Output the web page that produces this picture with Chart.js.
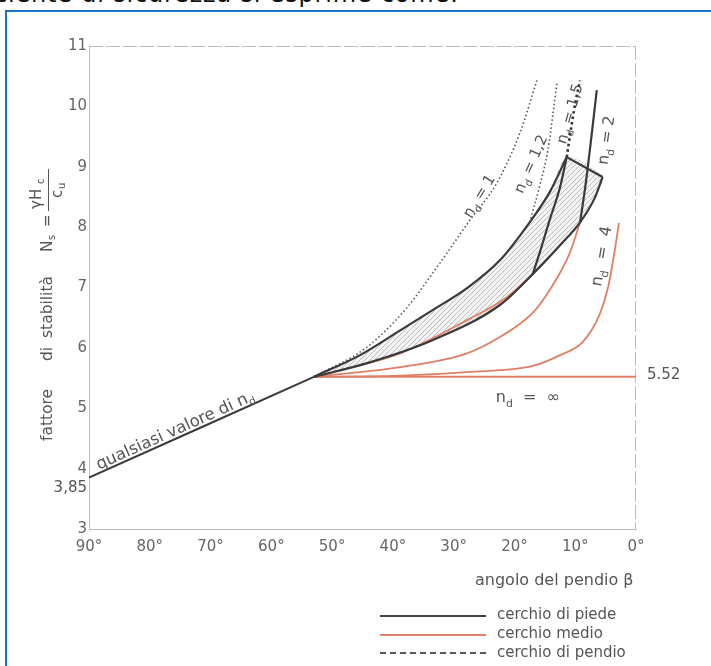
<!DOCTYPE html>
<html>
<head>
<meta charset="utf-8">
<script src="https://cdn.jsdelivr.net/npm/chart.js@4.4.1/dist/chart.umd.min.js"></script>
<style>
  html, body { margin: 0; padding: 0; background: #fff; }
  body { width: 711px; height: 666px; position: relative; overflow: hidden; font-family: "DejaVu Sans", sans-serif; }
  #topText { position: absolute; left: -6px; top: -17px; font-size: 24px; line-height: 23px; letter-spacing: 0.8px; color: #111; white-space: nowrap; }
  #frame { position: absolute; left: 5px; top: 10px; width: 740px; height: 700px; border-left: 2px solid #1b73c8; border-top: 2px solid #1b73c8; }
  #chartBox { position: absolute; left: 0; top: 0; width: 711px; height: 666px; }
  #xTitle { position: absolute; left: 475px; top: 570px; font-size: 16px; color: #555; }
  .lg { position: absolute; left: 380px; width: 106px; height: 0; }
  .lgText { position: absolute; left: 497px; font-size: 15px; color: #555; line-height: 18px; }
</style>
</head>
<body>
<div id="topText">ciente di sicurezza si esprime come:</div>
<div id="frame"></div>
<div id="chartBox"><canvas id="taylorChart" width="711" height="666"></canvas></div>
<div id="xTitle">angolo del pendio β</div>
<div class="lg" style="top:615px;border-top:2px solid #444;"></div>
<div class="lgText" style="top:605px;">cerchio di piede</div>
<div class="lg" style="top:634px;border-top:2px solid #e08068;"></div>
<div class="lgText" style="top:624px;">cerchio medio</div>
<div class="lg" style="top:652px;border-top:2px dashed #555;"></div>
<div class="lgText" style="top:643px;">cerchio di pendio</div>
<script>
// angolo del pendio (gradi) / fattore di stabilita Ns
const betaTicks = [90, 80, 70, 60, 50, 40, 30, 20, 10, 0];
const nsTicks = [3, 4, 5, 6, 7, 8, 9, 10, 11];

const betaBase = [90, 53];
const nsBase = [3.85, 5.52];

const betaInf = [53, 0];
const nsInf = [5.52, 5.52];

// cerchio medio
const betaMedio15 = [53, 47.1, 38.8, 27.8, 21.25, 17.0];
const nsMedio15 = [5.52, 5.67, 5.91, 6.46, 6.84, 7.22];
const betaMedio2 = [53, 38.8, 27.8, 22.4, 17.0, 14.2, 10.9, 9.2];
const nsMedio2 = [5.52, 5.68, 5.91, 6.18, 6.58, 6.96, 7.57, 8.08];
const betaMedio4 = [53, 38.8, 27.8, 17.0, 12.5, 8.75, 6.0, 4.6, 3.6, 2.8];
const nsMedio4 = [5.52, 5.54, 5.60, 5.70, 5.88, 6.10, 6.55, 7.00, 7.55, 8.07];

// cerchio di piede (contorni zona tratteggiata e curve interne)
const betaPiedeUp = [53, 45.4, 38.8, 33.4, 27.8, 22.4, 17.5, 14.2, 11.4];
const nsPiedeUp = [5.52, 5.88, 6.29, 6.63, 6.99, 7.45, 8.08, 8.58, 9.16];
const betaPiedeLow = [53, 43.8, 33.4, 22.4, 17.0, 12.5, 9.2, 6.8, 5.5];
const nsPiedeLow = [5.52, 5.76, 6.13, 6.71, 7.22, 7.70, 8.08, 8.48, 8.83];
const betaPiedeTop = [11.4, 5.5];
const nsPiedeTop = [9.16, 8.83];
const betaPiede15 = [17.0, 15.8, 14.2, 12.5, 11.4];
const nsPiede15 = [7.22, 7.59, 8.12, 8.66, 9.16];
const betaPiede2 = [9.2, 8.3, 7.4, 6.45];
const nsPiede2 = [8.08, 8.70, 9.44, 10.27];

// cerchio di pendio
const betaPendio1 = [53, 44.3, 38.0, 32.3, 27.3, 22.9, 19.1, 16.3];
const nsPendio1 = [5.52, 6.01, 6.63, 7.40, 8.12, 8.73, 9.56, 10.43];
const betaPendio12 = [17.5, 15.8, 14.5, 13.7, 13.0];
const nsPendio12 = [8.08, 8.70, 9.27, 9.85, 10.40];
const betaPendio15 = [11.4, 10.6, 9.9, 9.2];
const nsPendio15 = [9.16, 9.69, 10.10, 10.43];

const ndLabels = ['1', '1,2', '1,5', '2', '4', '∞'];

const FONT = '"DejaVu Sans", sans-serif';
const BLACK = '#3a3a3a', RED = '#e07f66', GREY = '#555';

const pts = (bs, ns) => bs.map((b, i) => ({ x: b, y: ns[i] }));

const line = (data, color, width, dash, extra) => Object.assign({
  data,
  borderColor: color,
  borderWidth: width,
  borderDash: dash || [],
  pointRadius: 0,
  fill: false,
  cubicInterpolationMode: 'monotone',
}, extra || {});

// hatch pattern for the toe-circle zone
const hatch = (() => {
  const c = document.createElement('canvas');
  c.width = 5; c.height = 5;
  const g = c.getContext('2d');
  g.fillStyle = 'rgba(235,235,235,0.6)';
  g.fillRect(0, 0, 5, 5);
  g.strokeStyle = '#b0b0b0';
  g.lineWidth = 0.8;
  g.beginPath();
  g.moveTo(0, 5); g.lineTo(5, 0);
  g.moveTo(-1, 1); g.lineTo(1, -1);
  g.moveTo(4, 6); g.lineTo(6, 4);
  g.stroke();
  return g.createPattern(c, 'repeat');
})();

const zone = pts(betaPiedeUp, nsPiedeUp).concat(pts(betaPiedeLow, nsPiedeLow).reverse());

const setFont = (ctx, size) => { ctx.font = size + 'px ' + FONT; };

function drawNd(ctx, cx, cy, angle, value, size, gap) {
  ctx.save();
  ctx.translate(cx, cy);
  ctx.rotate(angle * Math.PI / 180);
  ctx.fillStyle = GREY;
  ctx.textBaseline = 'alphabetic';
  setFont(ctx, size);
  const wN = ctx.measureText('n').width;
  const rest = gap + '=' + gap + value;
  const wR = ctx.measureText(rest).width;
  setFont(ctx, size * 0.68);
  const wD = ctx.measureText('d').width;
  let x0 = -(wN + wD + wR) / 2;
  const base = size * 0.35;
  setFont(ctx, size);
  ctx.fillText('n', x0, base);
  setFont(ctx, size * 0.68);
  ctx.fillText('d', x0 + wN, base + size * 0.3);
  setFont(ctx, size);
  ctx.fillText(rest, x0 + wN + wD, base);
  ctx.restore();
}

const extras = {
  id: 'extras',
  afterDatasetsDraw(chart) {
    const { ctx, chartArea: a, scales: { x, y } } = chart;
    ctx.save();

    // top and right edges of the frame
    ctx.strokeStyle = 'rgba(175,160,160,0.75)';
    ctx.lineWidth = 1;
    ctx.setLineDash([14, 3]);
    ctx.beginPath();
    ctx.moveTo(a.left, a.top + 0.5); ctx.lineTo(a.right, a.top + 0.5);
    ctx.moveTo(a.right - 0.5, a.top); ctx.lineTo(a.right - 0.5, a.bottom);
    ctx.stroke();
    ctx.setLineDash([]);

    // extra values on the axes
    ctx.fillStyle = GREY;
    setFont(ctx, 15);
    ctx.textBaseline = 'middle';
    ctx.textAlign = 'right';
    ctx.fillText('3,85', a.left - 2, y.getPixelForValue(nsBase[0]) + 10);
    ctx.textAlign = 'left';
    ctx.fillText(nsInf[0].toFixed(2), a.right + 11, y.getPixelForValue(nsInf[0]) - 2);

    // label along the common line
    const x1 = x.getPixelForValue(betaBase[0]), y1 = y.getPixelForValue(nsBase[0]);
    const x2 = x.getPixelForValue(betaBase[1]), y2 = y.getPixelForValue(nsBase[1]);
    const ang = Math.atan2(y2 - y1, x2 - x1);
    ctx.save();
    ctx.translate(x1 + 10, y1 - 8);
    ctx.rotate(ang);
    ctx.textAlign = 'left';
    ctx.textBaseline = 'alphabetic';
    setFont(ctx, 16.5);
    const txt = 'qualsiasi valore di n';
    ctx.fillText(txt, 0, 0);
    const w = ctx.measureText(txt).width;
    setFont(ctx, 11);
    ctx.fillText('d', w, 4);
    ctx.restore();

    // n_d labels
    const pos = [
      { b: 25.9, n: 8.52, a: -58, s: 15, g: ' ' },
      { b: 17.4, n: 9.05, a: -66, s: 15, g: ' ' },
      { b: 11.0, n: 9.88, a: -74, s: 15, g: ' ' },
      { b: 5.0, n: 9.44, a: -82, s: 15.5, g: ' ' },
      { b: 5.8, n: 7.52, a: -80, s: 16, g: '  ' },
      { b: 17.8, n: 5.2, a: 0, s: 16, g: '  ' },
    ];
    pos.forEach((p, i) => drawNd(ctx, x.getPixelForValue(p.b), y.getPixelForValue(p.n), p.a, ndLabels[i], p.s, p.g));

    // y axis title
    ctx.save();
    ctx.translate(48, 441);
    ctx.rotate(-Math.PI / 2);
    ctx.textBaseline = 'middle';
    ctx.textAlign = 'left';
    setFont(ctx, 15.5);
    ctx.fillText('fattore', 0, 0);
    ctx.fillText('di', 80, 0);
    ctx.fillText('stabilità', 103, 0);
    ctx.fillText('N', 189, 0);
    setFont(ctx, 10);
    ctx.fillText('s', 201, 4);
    setFont(ctx, 15);
    ctx.fillText('=', 214, 0);
    // fraction
    ctx.fillText('γH', 232, -11);
    setFont(ctx, 10);
    ctx.fillText('c', 257, -7);
    setFont(ctx, 15);
    ctx.fillText('c', 243, 10);
    setFont(ctx, 10);
    ctx.fillText('u', 252, 14);
    ctx.strokeStyle = GREY;
    ctx.lineWidth = 1;
    ctx.beginPath();
    ctx.moveTo(230, 0.5); ctx.lineTo(272, 0.5);
    ctx.stroke();
    ctx.restore();

    ctx.restore();
  }
};

new Chart(document.getElementById('taylorChart'), {
  type: 'line',
  data: {
    datasets: [
      line(pts(betaBase, nsBase), BLACK, 2),
      line(pts(betaPiedeUp, nsPiedeUp), BLACK, 2.2, { cubicInterpolationMode: 'default', tension: 0.3 }),
      line(pts(betaPiedeLow, nsPiedeLow), BLACK, 2.2, { cubicInterpolationMode: 'default', tension: 0.3 }),
      line(pts(betaPiedeTop, nsPiedeTop), BLACK, 2.2),
      line(pts(betaPiede15, nsPiede15), BLACK, 2.2),
      line(pts(betaPiede2, nsPiede2), BLACK, 2.2),
      line(pts(betaInf, nsInf), RED, 2),
      line(pts(betaMedio15, nsMedio15), RED, 1.8),
      line(pts(betaMedio2, nsMedio2), RED, 1.8),
      line(pts(betaMedio4, nsMedio4), RED, 1.8),
      line(pts(betaPendio1, nsPendio1), '#555', 1.6, [1.5, 2.5]),
      line(pts(betaPendio12, nsPendio12), '#555', 1.6, [1.5, 2.5]),
      line(pts(betaPendio15, nsPendio15), '#333', 2.6, [2.5, 3]),
      line(zone, 'rgba(0,0,0,0)', 0, null, { cubicInterpolationMode: 'default', tension: 0.3, fill: 'shape', backgroundColor: hatch }),
    ],
  },
  options: {
    responsive: false,
    animation: false,
    devicePixelRatio: 1,
    layout: { padding: { top: 46, right: 75, bottom: 107, left: 0 } },
    plugins: { legend: { display: false }, tooltip: { enabled: false } },
    scales: {
      x: {
        type: 'linear',
        reverse: true,
        min: 0,
        max: 90,
        afterFit: (s) => { s.height = 30; },
        afterBuildTicks: (s) => { s.ticks = betaTicks.map((v) => ({ value: v })); },
        ticks: {
          callback: (v) => v + '°',
          color: '#666',
          font: { family: FONT, size: 15 },
          padding: 9,
          maxRotation: 0,
        },
        grid: { display: false, drawTicks: false },
        border: { display: true, color: 'rgba(175,160,160,0.75)', width: 1, dash: [14, 3] },
      },
      y: {
        type: 'linear',
        min: 3,
        max: 11,
        afterFit: (s) => { s.width = 89; },
        afterBuildTicks: (s) => { s.ticks = nsTicks.map((v) => ({ value: v })); },
        ticks: {
          color: '#666',
          font: { family: FONT, size: 15 },
          padding: 2,
        },
        grid: { display: false, drawTicks: false },
        border: { display: true, color: 'rgba(200,170,170,0.8)', width: 1 },
      },
    },
  },
  plugins: [extras],
});
</script>
</body>
</html>
